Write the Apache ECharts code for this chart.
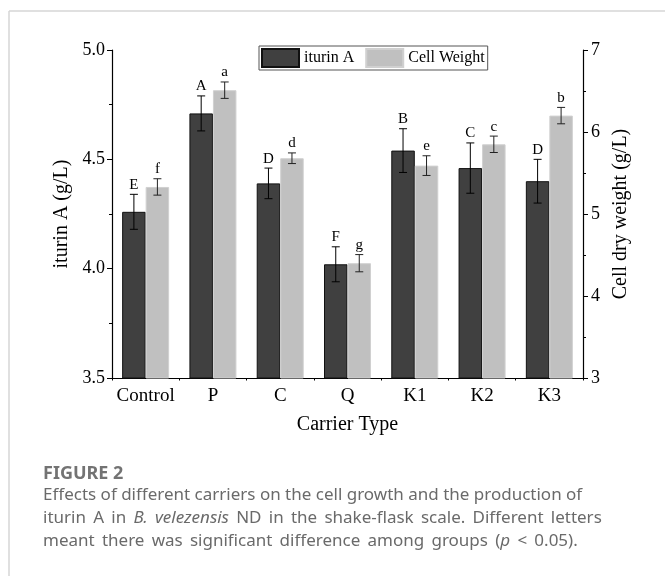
<!DOCTYPE html>
<html>
<head>
<meta charset="utf-8">
<script src="https://cdn.jsdelivr.net/npm/echarts@6/dist/echarts.min.js"></script>
<style>
html,body{margin:0;padding:0;background:#fff;}
#chart{width:665px;height:576px;}
</style>
</head>
<body>
<div id="chart"></div>
<script>
const categories = ['Control', 'P', 'C', 'Q', 'K1', 'K2', 'K3'];
const iturin = [4.26, 4.71, 4.39, 4.02, 4.54, 4.46, 4.40];
const iturinErr = [0.08, 0.08, 0.07, 0.08, 0.10, 0.115, 0.10];
const iturinLetters = ['E', 'A', 'D', 'F', 'B', 'C', 'D'];
const cellWeight = [5.33, 6.51, 5.68, 4.40, 5.59, 5.85, 6.20];
const cellErr = [0.10, 0.10, 0.065, 0.105, 0.12, 0.10, 0.10];
const cellLetters = ['f', 'a', 'd', 'g', 'e', 'c', 'b'];
const leftTicks = { min: 3.5, max: 5.0, interval: 0.5 };
const rightTicks = { min: 3, max: 7, interval: 1 };

const SERIF = 'Liberation Serif, Times New Roman, serif';
const SANS = '"Noto Sans", sans-serif';
const BAR_W = 23.5;
const WS = ' \u2009';

function errorRender(values, errs, letters, offset, color) {
  return function (params, api) {
    const i = params.dataIndex;
    const v = values[i], e = errs[i];
    const c = api.coord([i, v]);
    const t = api.coord([i, v + e]);
    const b = api.coord([i, v - e]);
    const x = c[0] + offset;
    const cap = 4;
    const st = { stroke: color, lineWidth: 1 };
    return {
      type: 'group',
      children: [
        { type: 'line', shape: { x1: x, y1: t[1], x2: x, y2: b[1] }, style: st },
        { type: 'line', shape: { x1: x - cap, y1: t[1], x2: x + cap, y2: t[1] }, style: st },
        { type: 'line', shape: { x1: x - cap, y1: b[1], x2: x + cap, y2: b[1] }, style: st },
        { type: 'text', x: x, y: t[1] - 2,
          style: { text: letters[i], align: 'center', verticalAlign: 'bottom',
                   font: '15px ' + SERIF, fill: '#000' } }
      ]
    };
  };
}

const chart = echarts.init(document.getElementById('chart'), null, { renderer: 'canvas' });

const capRich = {
  n: { font: '17px ' + SANS, fill: '#6a6a6a' },
  i: { font: 'italic 17px ' + SANS, fill: '#6a6a6a' }
};

const option = {
  backgroundColor: '#fff',
  animation: false,
  grid: { left: 112, right: 82, top: 50, bottom: 198 },
  legend: {
    data: ['iturin A', 'Cell Weight'],
    left: 259, top: 46,
    itemWidth: 37, itemHeight: 18, itemGap: 11,
    padding: [2, 3, 2, 2],
    borderColor: '#555', borderWidth: 1,
    icon: 'rect',
    textStyle: { fontFamily: SERIF, fontSize: 16, color: '#000' }
  },
  xAxis: [
    {
      type: 'category', data: categories, position: 'bottom',
      name: 'Carrier Type', nameLocation: 'middle', nameGap: 37,
      nameTextStyle: { fontFamily: SERIF, fontSize: 20, color: '#000' },
      axisLine: { lineStyle: { color: '#000', width: 1.2 } },
      axisTick: { alignWithLabel: true, interval: 0, length: 4, lineStyle: { color: '#000' } },
      axisLabel: { interval: 0, fontFamily: SERIF, fontSize: 19, color: '#000', margin: 9 },
      splitLine: { show: false }
    },
    {
      type: 'category', data: categories, position: 'top', offset: -328,
      axisLine: { show: false },
      axisTick: { show: true, interval: 0, inside: true, length: 2.5, lineStyle: { color: '#000' } },
      axisLabel: { show: false, interval: 0 },
      splitLine: { show: false }
    }
  ],
  yAxis: [
    {
      type: 'value', position: 'left',
      min: leftTicks.min, max: leftTicks.max, interval: leftTicks.interval,
      name: 'iturin A (g/L)', nameLocation: 'middle', nameGap: 40, nameRotate: 90,
      nameTextStyle: { fontFamily: SERIF, fontSize: 20, color: '#000' },
      axisLine: { show: true, lineStyle: { color: '#000', width: 1.2 } },
      axisTick: { show: true, length: 5, lineStyle: { color: '#000' } },
      minorTick: { show: true, splitNumber: 2, length: 3, lineStyle: { color: '#000' } },
      axisLabel: { fontFamily: SERIF, fontSize: 18, color: '#000', margin: 7,
                   formatter: v => v.toFixed(1) },
      splitLine: { show: false }
    },
    {
      type: 'value', position: 'right',
      min: rightTicks.min, max: rightTicks.max, interval: rightTicks.interval,
      name: 'Cell dry weight (g/L)', nameLocation: 'middle', nameGap: 25, nameRotate: 90,
      nameTextStyle: { fontFamily: SERIF, fontSize: 20, color: '#000' },
      axisLine: { show: true, lineStyle: { color: '#000', width: 1.2 } },
      axisTick: { show: true, length: 5, lineStyle: { color: '#000' } },
      minorTick: { show: true, splitNumber: 2, length: 3, lineStyle: { color: '#000' } },
      axisLabel: { fontFamily: SERIF, fontSize: 18, color: '#000', margin: 8 },
      splitLine: { show: false }
    }
  ],
  series: [
    {
      name: 'iturin A', type: 'bar', xAxisIndex: 0, yAxisIndex: 0,
      data: iturin, barWidth: BAR_W, barGap: '0%',
      itemStyle: { color: '#404040', borderColor: '#111', borderWidth: 1 }
    },
    {
      name: 'Cell Weight', type: 'bar', xAxisIndex: 0, yAxisIndex: 1,
      data: cellWeight, barWidth: BAR_W, barGap: '0%',
      itemStyle: { color: '#c0c0c0', borderColor: '#d0d0d0', borderWidth: 1 }
    },
    {
      type: 'custom', xAxisIndex: 0, yAxisIndex: 0, z: 5,
      data: iturin.map((v, i) => [i, v]),
      renderItem: errorRender(iturin, iturinErr, iturinLetters, -BAR_W / 2, '#000'),
      silent: true
    },
    {
      type: 'custom', xAxisIndex: 0, yAxisIndex: 1, z: 5,
      data: cellWeight.map((v, i) => [i, v]),
      renderItem: errorRender(cellWeight, cellErr, cellLetters, BAR_W / 2, '#222'),
      silent: true
    }
  ],
  graphic: [
    { type: 'line', shape: { x1: 9, y1: 11, x2: 665, y2: 11 },
      style: { stroke: '#d6d6d6', lineWidth: 1.5 } },
    { type: 'line', shape: { x1: 9, y1: 11, x2: 9, y2: 576 },
      style: { stroke: '#d6d6d6', lineWidth: 1.5 } },
    { type: 'text', left: 43, top: 465,
      style: { text: 'FIGURE 2', font: 'bold 18px ' + SANS, fill: '#737373' } },
    { type: 'text', left: 43, top: 487,
      style: {
        text: 'Effects of different carriers on the cell growth and the production of',
        font: '17px ' + SANS, fill: '#6a6a6a' } },
    { type: 'text', left: 43, top: 510,
      style: {
        text: '{n|iturin' + WS + 'A' + WS + 'in' + WS + '}{i|B.' + WS + 'velezensis}{n|' + WS +
              ['ND', 'in', 'the', 'shake-flask', 'scale.', 'Different', 'letters'].join(WS) + '}',
        rich: capRich } },
    { type: 'text', left: 43, top: 533,
      style: {
        text: '{n|' + ['meant', 'there', 'was', 'significant', 'difference', 'among', 'groups', '('].join(WS).replace(WS + '(', WS + '(') + '}{i|p}{n|' + WS + '<' + WS + '0.05).}',
        rich: capRich } }
  ]
};
chart.setOption(option);
</script>
</body>
</html>
